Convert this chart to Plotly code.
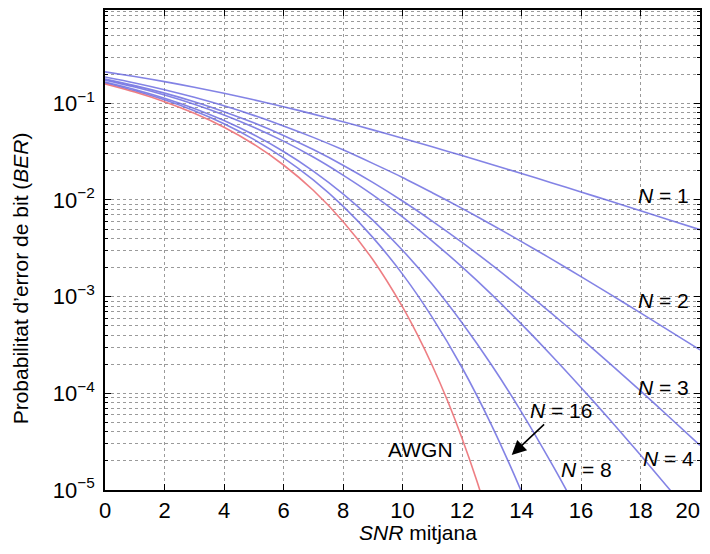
import plotly.graph_objects as go

# SNR (dB) sample points
snr_int = [0, 1, 2, 3, 4, 5, 6, 7, 8, 9, 10, 11, 12, 13, 14, 15, 16, 17, 18, 19, 20]

ber_n1 = [0.2113, 0.1892, 0.1675, 0.1467, 0.1269, 0.1087, 0.0921, 0.0773, 0.0643, 0.0531,
          0.0436, 0.0355, 0.0288, 0.0233, 0.0188, 0.0151, 0.0121, 0.00969, 0.00774, 0.00618, 0.00493]
ber_n2 = [0.1870, 0.1623, 0.1382, 0.1153, 0.0941, 0.0750, 0.0583, 0.0444, 0.0330, 0.0239,
          0.0171, 0.0119, 0.00819, 0.00555, 0.00371, 0.00246, 0.00161, 0.00105, 6.80e-4, 4.38e-4, 2.81e-4]
ber_n3 = [0.1780, 0.1524, 0.1274, 0.1038, 0.0820, 0.0628, 0.0465, 0.0332, 0.0229, 0.0152,
          0.00976, 0.00605, 0.00364, 0.00213, 0.00121, 6.76e-4, 3.70e-4, 1.99e-4, 1.06e-4, 5.56e-5, 2.90e-5]
ber_n4 = [0.1733, 0.1472, 0.1218, 0.0978, 0.0758, 0.0566, 0.0406, 0.0278, 0.0181, 0.0113,
          0.00667, 0.00376, 0.00203, 0.00105, 5.19e-4, 2.48e-4, 1.15e-4, 5.20e-5, 2.30e-5, 9.95e-6, 4.24e-6]

snr_n8 = [0, 1, 2, 3, 4, 5, 6, 7, 8, 9, 10, 11, 12, 13, 14, 15, 15.5, 16]
ber_n8 = [0.1661, 0.1392, 0.1130, 0.0885, 0.0663, 0.0472, 0.0317, 0.0199, 0.01156, 0.00618,
          0.00302, 0.00134, 5.37e-4, 1.95e-4, 6.39e-5, 1.91e-5, 1.01e-5, 5.2e-6]

snr_n16 = [0, 1, 2, 3, 4, 5, 6, 7, 8, 9, 10, 11, 12, 13, 14, 14.5]
ber_n16 = [0.1624, 0.1350, 0.1086, 0.0837, 0.0614, 0.0424, 0.0273, 0.0161, 0.00862, 0.00410,
           0.00171, 6.11e-4, 1.85e-4, 4.64e-5, 9.60e-6, 4.05e-6]

snr_awgn = [0, 1, 2, 3, 4, 5, 6, 7, 8, 9, 10, 10.5, 11, 11.5, 12, 12.5, 13]
ber_awgn = [0.1587, 0.1309, 0.1040, 0.0788, 0.0565, 0.0377, 0.0230, 0.0126, 0.00600, 0.00242,
            7.83e-4, 4.04e-4, 1.94e-4, 8.57e-5, 3.43e-5, 1.24e-5, 3.97e-6]

y_tickvals = [1e-1, 1e-2, 1e-3, 1e-4, 1e-5]
y_ticktext = ["10<sup>\u22121</sup>", "10<sup>\u22122</sup>", "10<sup>\u22123</sup>",
              "10<sup>\u22124</sup>", "10<sup>\u22125</sup>"]
x_tickvals = [0, 2, 4, 6, 8, 10, 12, 14, 16, 18, 20]
# last label padded with non-breaking spaces so that it stays inside the page edge
x_ticktext = ["0", "2", "4", "6", "8", "10", "12", "14", "16", "18",
              "20\u00a0\u00a0\u00a0\u00a0"]

# labels: (text, x, log10 y)
labels = [("<i>N</i> = 1", 18.76, -1.95),
          ("<i>N</i> = 2", 18.76, -3.035),
          ("<i>N</i> = 3", 18.76, -3.935),
          ("<i>N</i> = 4", 18.95, -4.669),
          ("<i>N</i> = 8", 16.18, -4.793),
          ("<i>N</i> = 16", 15.34, -4.173),
          ("AWGN", 10.62, -4.576)]

FONT = "Arial, Liberation Sans, sans-serif"
BLUE = "rgba(100,100,222,0.8)"
RED = "rgba(236,112,118,0.9)"

fig = go.Figure()
blue_series = [(snr_int, ber_n1), (snr_int, ber_n2), (snr_int, ber_n3), (snr_int, ber_n4),
               (snr_n8, ber_n8), (snr_n16, ber_n16)]
for xs, ys in blue_series:
    fig.add_trace(go.Scatter(x=xs, y=ys, mode="lines",
                             line=dict(color=BLUE, width=1.6, shape="spline", smoothing=0.8),
                             showlegend=False, hoverinfo="skip"))
fig.add_trace(go.Scatter(x=snr_awgn, y=ber_awgn, mode="lines",
                         line=dict(color=RED, width=1.6, shape="spline", smoothing=0.8),
                         showlegend=False, hoverinfo="skip"))

for txt, lx, ly in labels:
    fig.add_annotation(x=lx, y=ly, xref="x", yref="y", text=txt, showarrow=False,
                       xanchor="center", yanchor="middle",
                       font=dict(family=FONT, size=21, color="black"))

# arrow pointing to N = 16 curve
fig.add_annotation(x=13.67, y=-4.638, ax=14.81, ay=-4.307, xref="x", yref="y",
                   axref="x", ayref="y", text="", showarrow=True, arrowhead=2,
                   arrowsize=1.8, arrowwidth=1.6, arrowcolor="black")

fig.add_annotation(x=-0.142, y=0.44, xref="paper", yref="paper",
                   xanchor="center", yanchor="middle",
                   text="Probabilitat d\u2019error de bit (<i>BER</i>)", textangle=-90,
                   showarrow=False, font=dict(family=FONT, size=21, color="black"))
fig.add_annotation(x=0.526, y=-0.088, xref="paper", yref="paper",
                   xanchor="center", yanchor="middle",
                   text="<i>SNR</i> mitjana", showarrow=False,
                   font=dict(family=FONT, size=21, color="black"))

GRID = "#9a9a9a"
fig.update_xaxes(range=[0, 20], tickvals=x_tickvals, ticktext=x_ticktext, ticks="inside",
                 ticklen=6, tickcolor="black", showline=True, linecolor="black",
                 linewidth=1.5, mirror="allticks", showgrid=True, gridcolor=GRID,
                 griddash="dot", gridwidth=1, zeroline=False, automargin=False,
                 ticklabeloverflow="allow",
                 tickfont=dict(family=FONT, size=22, color="black"))
fig.update_yaxes(type="log", range=[-5, -0.035], tickvals=y_tickvals, ticktext=y_ticktext,
                 ticks="inside", ticklen=6, tickcolor="black", showline=True,
                 linecolor="black", linewidth=1.5, mirror="allticks", showgrid=True,
                 gridcolor=GRID, griddash="dot", gridwidth=1, zeroline=False,
                 automargin=False, ticklabeloverflow="allow", ticklabelstandoff=4,
                 minor=dict(dtick="D1", showgrid=True, gridcolor=GRID, griddash="dot",
                            gridwidth=1, ticks="inside", ticklen=3, tickcolor="black"),
                 tickfont=dict(family=FONT, size=22, color="black"))

# page body has an 8px margin; keep the figure inside the 710x554 window without overflow
fig.update_layout(width=694, height=538, margin=dict(l=97, r=2, t=2, b=56),
                  plot_bgcolor="white", paper_bgcolor="white",
                  font=dict(family=FONT, color="black"))

fig.write_html("out.html")
